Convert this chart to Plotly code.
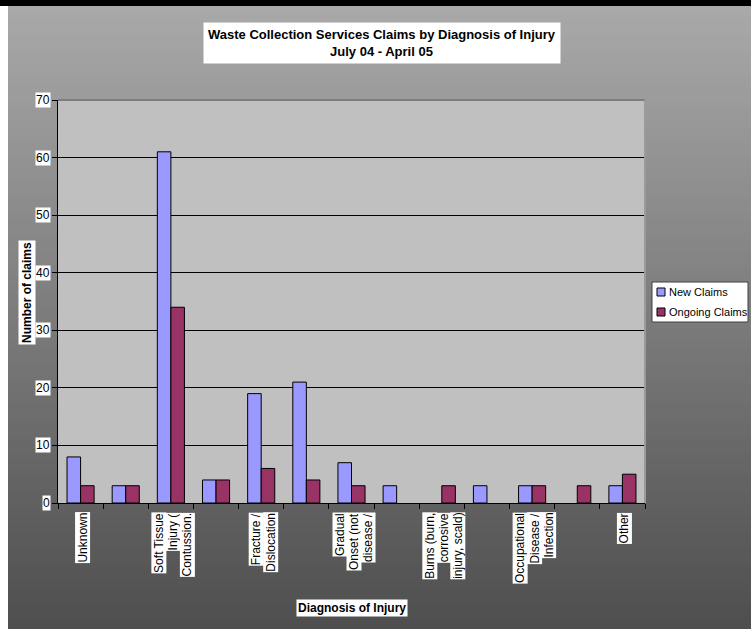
import plotly.graph_objects as go

# ---- data -------------------------------------------------------------
categories = list(range(13))
new_claims = [8, 3, 61, 4, 19, 21, 7, 3, 0, 3, 3, 0, 3]
ongoing_claims = [3, 3, 34, 4, 6, 4, 3, 0, 3, 0, 3, 3, 5]

# category labels shown on every other slot, split into wrapped lines
label_slots = [0, 2, 4, 6, 8, 10, 12]
label_lines = [
    ["Unknown"],
    ["Soft Tissue", "Injury (", "Contussion."],
    ["Fracture /", "Dislocation"],
    ["Gradual", "Onset (not", "disease /"],
    ["Burns (burn,", "corrosive", "injury, scald)"],
    ["Occupational", "Disease /", "Infection"],
    ["Other"],
]
y_ticks = [0, 10, 20, 30, 40, 50, 60, 70]
series_names = ["New Claims", "Ongoing Claims"]
series_colors = ["#9999ff", "#993366"]

title_text = "Waste Collection Services Claims by Diagnosis of Injury<br>July 04 - April 05"
x_title = "Diagnosis of Injury"
y_title = "Number of claims"

# ---- geometry (pixels) ------------------------------------------------
W, H = 751, 629
L, R, T, B = 58, 645, 100, 503  # plot area edges
NARROW = "Liberation Sans Narrow, Arial Narrow, Liberation Sans, Arial, sans-serif"
SANS = "Liberation Sans, Arial, sans-serif"


def px(x):
    return (x - L) / (R - L)


def py(y):
    return (B - y) / (B - T)


fig = go.Figure()
for name, vals, col in zip(series_names, [new_claims, ongoing_claims], series_colors):
    fig.add_trace(go.Bar(
        x=categories, y=vals, name=name,
        marker=dict(color=col,
                    line=dict(color="black", width=[1 if v else 0 for v in vals])),
        showlegend=False,
    ))

shapes = []
# top black strip
shapes.append(dict(type="rect", xref="paper", yref="paper",
                   x0=px(-2), x1=px(W + 2), y0=py(6), y1=py(-2),
                   fillcolor="black", line_width=0, layer="below"))
# vertical grey gradient behind the chart
n_steps = 125
top_c, bot_c = 169, 78
y_start, y_end = 6, H
for i in range(n_steps):
    y0 = y_start + (y_end - y_start) * i / n_steps
    y1 = y_start + (y_end - y_start) * (i + 1) / n_steps + 3
    t = (i + 0.5) / n_steps
    c = int(round(top_c + (bot_c - top_c) * t))
    shapes.append(dict(type="rect", xref="paper", yref="paper",
                       x0=px(8), x1=px(W + 2), y0=py(min(y1, H + 2)), y1=py(y0),
                       fillcolor=f"rgb({c},{c},{c})", line_width=0, layer="below"))
# plot area fill
shapes.append(dict(type="rect", xref="paper", yref="paper",
                   x0=0, x1=1, y0=0, y1=1,
                   fillcolor="#c0c0c0", line_width=0, layer="below"))
# plot area border (top / right)
shapes.append(dict(type="line", xref="paper", yref="paper",
                   x0=0, x1=1, y0=1, y1=1,
                   line=dict(color="#7c7c7c", width=2), layer="above"))
shapes.append(dict(type="line", xref="paper", yref="paper",
                   x0=1, x1=1, y0=0, y1=1,
                   line=dict(color="#9a9a9a", width=2), layer="above"))

# legend box and swatches
lg_x0, lg_x1, lg_y0, lg_y1 = 652, 748, 282, 322
shapes.append(dict(type="rect", xref="paper", yref="paper",
                   x0=px(lg_x0), x1=px(lg_x1), y0=py(lg_y1), y1=py(lg_y0),
                   fillcolor="white", line=dict(color="#404040", width=1), layer="above"))

annotations = []
for k, (name, col) in enumerate(zip(series_names, series_colors)):
    cy = 292 + 20 * k
    shapes.append(dict(type="rect", xref="paper", yref="paper",
                       x0=px(657), x1=px(665), y0=py(cy + 4), y1=py(cy - 4),
                       fillcolor=col, line=dict(color="black", width=1), layer="above"))
    annotations.append(dict(xref="paper", yref="paper", x=px(667), y=py(cy),
                            xanchor="left", yanchor="middle", showarrow=False,
                            text=name, font=dict(family=SANS, size=11, color="black")))

# title
annotations.append(dict(xref="paper", yref="paper", x=px(381.5), y=py(43),
                        xanchor="center", yanchor="middle", showarrow=False,
                        text="<b>" + title_text.replace("<br>", "</b><br><b>") + "</b>",
                        font=dict(family=NARROW, size=13, color="black"),
                        bgcolor="white", borderpad=4))

# y tick labels
for v in y_ticks:
    annotations.append(dict(xref="paper", yref="y", x=px(51), y=v,
                            xanchor="right", yanchor="middle", showarrow=False,
                            text=str(v), font=dict(family=NARROW, size=12, color="black"),
                            bgcolor="white", borderpad=0))

# category labels, rotated, one box per wrapped line
for slot, lines in zip(label_slots, label_lines):
    n = len(lines)
    for j, line in enumerate(lines):
        annotations.append(dict(xref="x", yref="paper", x=slot, y=py(512),
                                xshift=2 + (j - (n - 1) / 2) * 14,
                                xanchor="center", yanchor="top", textangle=-90,
                                showarrow=False, text=line,
                                font=dict(family=SANS, size=12, color="black"),
                                bgcolor="white", borderpad=0))

# axis titles
annotations.append(dict(xref="paper", yref="paper", x=px(352), y=py(608),
                        xanchor="center", yanchor="middle", showarrow=False,
                        text="<b>" + x_title + "</b>",
                        font=dict(family=NARROW, size=12, color="black"),
                        bgcolor="white", borderpad=1))
annotations.append(dict(xref="paper", yref="paper", x=px(27), y=py(293),
                        xanchor="center", yanchor="middle", showarrow=False,
                        textangle=-90, text="<b>" + y_title + "</b>",
                        font=dict(family=NARROW, size=12, color="black"),
                        bgcolor="white", borderpad=1))

fig.update_layout(
    width=W, height=H,
    margin=dict(l=L, r=W - R, t=T, b=H - B),
    paper_bgcolor="white",
    plot_bgcolor="rgba(0,0,0,0)",
    barmode="group", bargap=0.4, bargroupgap=0,
    shapes=shapes, annotations=annotations,
    xaxis=dict(range=[-0.5, 12.5], showgrid=False, zeroline=False,
               tickmode="array", tickvals=[i - 0.5 for i in range(14)],
               showticklabels=False, ticks="outside", ticklen=5, tickcolor="black",
               showline=True, linecolor="black", linewidth=1),
    yaxis=dict(range=[0, 70], tickmode="array", tickvals=y_ticks,
               showticklabels=False, ticks="outside", ticklen=5, tickcolor="black",
               showgrid=True, gridcolor="black", gridwidth=1, zeroline=False,
               showline=True, linecolor="black", linewidth=1),
)

fig.write_html("out.html")
